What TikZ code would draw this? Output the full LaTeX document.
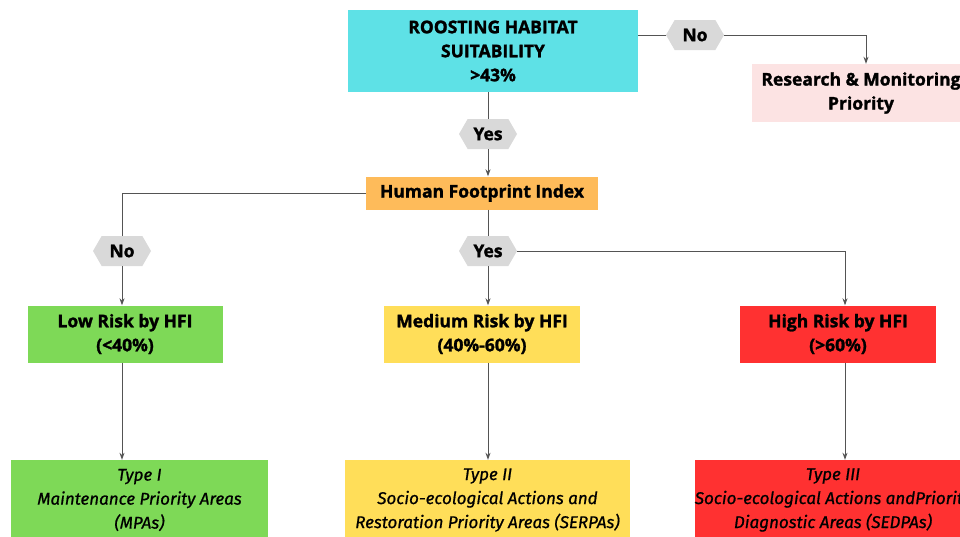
\documentclass[tikz,border=0pt]{standalone}
\usepackage{fontspec}
\setmainfont{Open Sans}[BoldFeatures={FakeBold=1.5}]
\newfontfamily\typefont{Fira Sans}[ItalicFeatures={FakeBold=0.8}]
\usetikzlibrary{shapes, shapes.symbols, calc, arrows.meta, positioning}

\definecolor{roostcyan}{HTML}{5EE1E6}
\definecolor{researchpink}{HTML}{FCE3E3}
\definecolor{hfiorange}{HTML}{FEBB5A}
\definecolor{lowgreen}{HTML}{7ED957}
\definecolor{medyellow}{HTML}{FFDE59}
\definecolor{highred}{HTML}{FF3131}
\definecolor{hexgray}{HTML}{D9D9D9}
\definecolor{linegray}{HTML}{545454}

\tikzset{
    box/.style={inner sep=0pt, align=center, font=\bfseries\fontsize{17.5}{24}\selectfont},
    typebox/.style={inner sep=0pt, align=center, font=\typefont\itshape\fontsize{17}{24}\selectfont},
    answer/.style={signal, signal to=west and east, signal pointer angle=120, fill=hexgray,
        inner xsep=4pt, inner ysep=0pt, minimum height=30pt, minimum width=58pt,
        font=\bfseries\fontsize{17.5}{20}\selectfont},
    link/.style={draw=linegray, line width=0.9pt},
    arrowlink/.style={link, -{Stealth[length=7pt, width=5pt]}}
}

\begin{document}
\begin{tikzpicture}[x=1pt, y=-1pt]
    \useasboundingbox (0,0) rectangle (960,536);
    \clip (0,0) rectangle (960,536);

    % decision boxes
    \node[box, fill=roostcyan, minimum width=290pt, minimum height=82pt] (roost) at (493,51) {ROOSTING HABITAT\\SUITABILITY\\>43\%};
    \node[box, fill=researchpink, minimum width=218pt, minimum height=58pt] (research) at (861,93) {Research \& Monitoring\\Priority};
    \node[box, fill=hfiorange, minimum width=232pt, minimum height=33pt] (hfi) at (482,193) {Human Footprint Index};

    % answers
    \node[answer] (roost-no) at (695,35) {No};
    \node[answer] (roost-yes) at (488,134) {Yes};
    \node[answer] (hfi-no) at (122,251) {No};
    \node[answer] (hfi-yes) at (488,251) {Yes};

    % risk levels
    \node[box, fill=lowgreen, minimum width=195pt, minimum height=57pt] (low-risk) at (125,334) {Low Risk by HFI\\(<40\%)};
    \node[box, fill=medyellow, minimum width=196pt, minimum height=57pt] (med-risk) at (482,334) {Medium Risk by HFI\\(40\%-60\%)};
    \node[box, fill=highred, minimum width=196pt, minimum height=57pt] (high-risk) at (838,334) {High Risk by HFI\\(>60\%)};

    % area types
    \node[typebox, fill=lowgreen, minimum width=257pt, minimum height=80pt] (type1) at (139.5,500) {Type I\\Maintenance Priority Areas\\(MPAs)};
    \node[typebox, fill=medyellow, minimum width=285pt, minimum height=80pt] (type2) at (487.5,500) {Type II\\Socio-ecological Actions and\\Restoration Priority Areas (SERPAs)};
    \node[typebox, fill=highred, minimum width=276pt, minimum height=80pt] (type3) at (833,500) {Type III\\Socio-ecological Actions andPriority\\Diagnostic Areas (SEDPAs)};

    % connectors
    \draw[link] (roost.east |- roost-no) -- (roost-no.west);
    \draw[arrowlink] (roost-no.east) -| (research.north -| 866,0);
    \draw[link] (roost.south -| roost-yes) -- (roost-yes.north);
    \draw[arrowlink] (roost-yes.south) -- (hfi.north -| roost-yes);
    \draw[link] (hfi.west) -| (hfi-no.north);
    \draw[link] (hfi.south -| hfi-yes) -- (hfi-yes.north);
    \draw[arrowlink] (hfi-no.south) -- (low-risk.north -| hfi-no);
    \draw[arrowlink] (hfi-yes.south) -- (med-risk.north -| hfi-yes);
    \draw[arrowlink] (hfi-yes.east) -| (high-risk.north -| 845,0);
    \draw[arrowlink] (low-risk.south -| hfi-no) -- (type1.north -| hfi-no);
    \draw[arrowlink] (med-risk.south -| hfi-yes) -- (type2.north -| hfi-yes);
    \draw[arrowlink] (high-risk.south -| 845,0) -- (type3.north -| 845,0);
\end{tikzpicture}
\end{document}
